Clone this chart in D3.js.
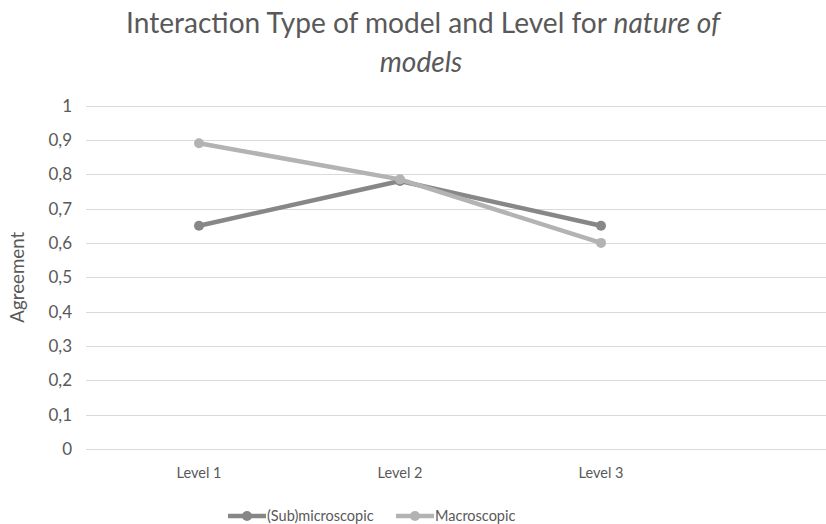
<!DOCTYPE html>
<html>
<head>
<meta charset="utf-8">
<script src="https://cdn.jsdelivr.net/npm/d3@7"></script>
<style>
  body { margin: 0; background: #fff; }
  svg { display: block; font-family: Lato, sans-serif; }
</style>
</head>
<body>
<div id="chart"></div>
<script>
const levels = ['Level 1', 'Level 2', 'Level 3'];
const subMicroscopic = [0.65, 0.78, 0.65];
const macroscopic = [0.89, 0.785, 0.60];
const yTicks = [0, 0.1, 0.2, 0.3, 0.4, 0.5, 0.6, 0.7, 0.8, 0.9, 1];

const width = 826, height = 524;
const textColor = '#595959';

const series = [
  { name: '(Sub)microscopic', values: subMicroscopic, color: '#878787' },
  { name: 'Macroscopic', values: macroscopic, color: '#b3b3b3' }
];

const svg = d3.select('#chart').append('svg')
  .attr('width', width)
  .attr('height', height)
  .attr('viewBox', [0, 0, width, height]);

// shrink/grow a text node so it spans the width
function fitWidth(sel, target) {
  const fs = +sel.attr('font-size');
  const w = sel.node().getComputedTextLength();
  sel.attr('font-size', fs * target / w);
  return fs * target / w;
}

const x = d3.scaleBand().domain(levels).range([98.5, 701.5]);
const y = d3.scaleLinear().domain([0, 1]).range([449, 105.5]);

// gridlines
svg.append('g')
  .selectAll('line')
  .data(yTicks)
  .join('line')
  .attr('x1', 86).attr('x2', width)
  .attr('y1', d => Math.round(y(d)) + 0.5)
  .attr('y2', d => Math.round(y(d)) + 0.5)
  .attr('stroke', '#d9d9d9')
  .attr('stroke-width', 1.2);

// y tick labels
svg.append('g')
  .selectAll('text')
  .data(yTicks)
  .join('text')
  .attr('x', 72)
  .attr('y', d => y(d))
  .attr('dy', '0.36em')
  .attr('text-anchor', 'end')
  .attr('font-size', 17)
  .attr('fill', textColor)
  .text(d => d3.format('.1~f')(d).replace('.', ','));

// x labels
svg.append('g')
  .selectAll('text')
  .data(levels)
  .join('text')
  .attr('x', d => x(d) + x.bandwidth() / 2)
  .attr('y', 473)
  .attr('dy', '0.36em')
  .attr('text-anchor', 'middle')
  .attr('font-size', 14.5)
  .attr('fill', textColor)
  .text(d => d);

// y axis title
const yTitle = svg.append('text')
  .attr('transform', `translate(24, ${y(0.5)}) rotate(-90)`)
  .attr('text-anchor', 'middle')
  .attr('font-size', 17)
  .attr('fill', textColor)
  .text('Agreement');
fitWidth(yTitle, 91);

// title
const title = svg.append('g').attr('fill', textColor).attr('text-anchor', 'middle');
const t1 = title.append('text').attr('x', 423).attr('y', 33).attr('font-size', 26);
t1.append('tspan').text('Interaction Type of model and Level for ');
t1.append('tspan').attr('font-style', 'italic').text('nature of');
const fs = fitWidth(t1, 594);
title.append('text').attr('x', 421).attr('y', 72).attr('font-size', fs)
  .attr('font-style', 'italic').text('models');

// lines
const line = d3.line()
  .x((d, i) => x(levels[i]) + x.bandwidth() / 2)
  .y(d => y(d));

const lines = svg.append('g');
series.forEach(s => {
  const g = lines.append('g');
  g.append('path')
    .attr('d', line(s.values))
    .attr('fill', 'none')
    .attr('stroke', s.color)
    .attr('stroke-width', 4.5)
    .attr('stroke-linejoin', 'round');
  g.selectAll('circle')
    .data(s.values)
    .join('circle')
    .attr('cx', (d, i) => x(levels[i]) + x.bandwidth() / 2)
    .attr('cy', d => y(d))
    .attr('r', 5)
    .attr('fill', s.color);
});

// legend
const legendItems = [
  { s: series[0], x0: 228 },
  { s: series[1], x0: 396 }
];
const legend = svg.append('g');
legendItems.forEach(({ s, x0 }) => {
  const g = legend.append('g').attr('transform', `translate(${x0}, 516)`);
  g.append('line').attr('x1', 0).attr('x2', 38).attr('stroke', s.color).attr('stroke-width', 4.5);
  g.append('circle').attr('cx', 19).attr('r', 5).attr('fill', s.color);
  g.append('text').attr('x', 39).attr('dy', '0.36em')
    .attr('font-size', 14.5).attr('fill', textColor).text(s.name);
});
</script>
</body>
</html>
